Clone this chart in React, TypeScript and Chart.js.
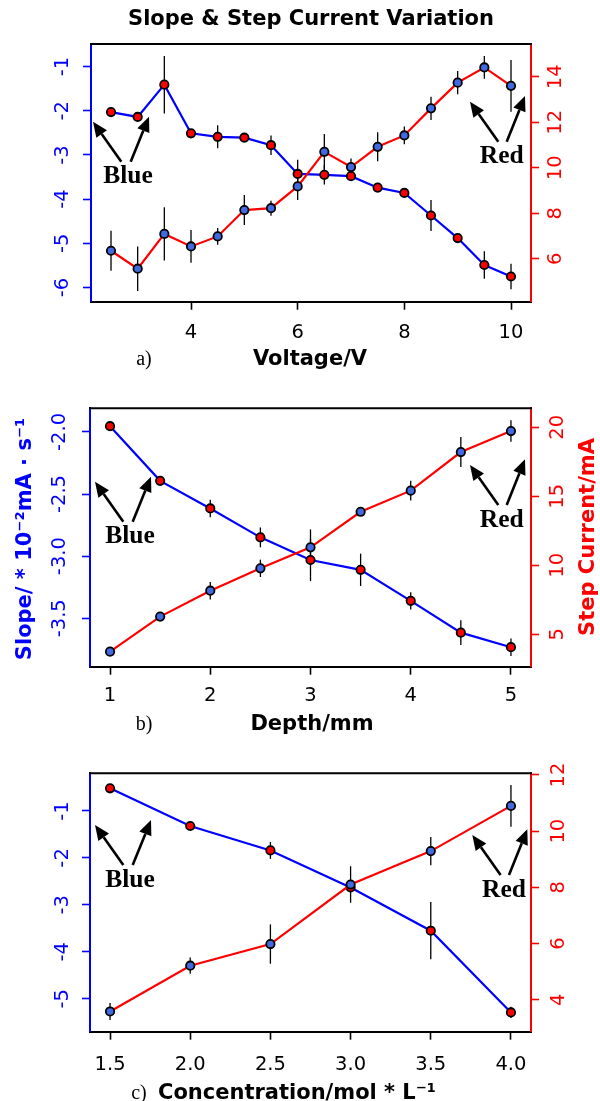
import React, { useEffect, useRef } from 'react';
import { Chart, registerables } from 'chart.js';

Chart.register(...registerables);

// ---------------- data ----------------
// a) voltage series
const voltage = [2.5, 3, 3.5, 4, 4.5, 5, 5.5, 6, 6.5, 7, 7.5, 8, 8.5, 9, 9.5, 10];
const slopeVoltage = [-2.03, -2.14, -1.41, -2.51, -2.59, -2.61, -2.78, -3.43, -3.45, -3.48, -3.74, -3.86, -4.37, -4.88, -5.49, -5.75];
const slopeVoltageErr = [0, 0, 0.65, 0, 0.26, 0, 0.22, 0.32, 0.22, 0, 0, 0, 0.35, 0, 0.31, 0.29];
const currentVoltage = [6.35, 5.56, 7.09, 6.54, 6.98, 8.14, 8.22, 9.18, 10.7, 10.03, 10.92, 11.42, 12.61, 13.74, 14.41, 13.6];
const currentVoltageErr = [0.88, 0.98, 1.17, 0.72, 0.37, 0.66, 0.33, 0.6, 0.78, 0.38, 0.64, 0.39, 0.51, 0.51, 0.5, 1.14];
const voltageTicks = [4, 6, 8, 10];
const slopeVoltageTicks = [-6, -5, -4, -3, -2, -1];
const currentVoltageTicks = [6, 8, 10, 12, 14];

// b) depth series
const depth = [1, 1.5, 2, 2.5, 3, 3.5, 4, 4.5, 5];
const slopeDepth = [-1.954, -2.394, -2.616, -2.849, -3.031, -3.11, -3.36, -3.616, -3.733];
const slopeDepthErr = [0, 0, 0.07, 0.08, 0.17, 0.13, 0.07, 0.1, 0.07];
const currentDepth = [3.74, 6.28, 8.16, 9.78, 11.3, 13.88, 15.41, 18.21, 19.73];
const currentDepthErr = [0, 0, 0.63, 0.63, 1.3, 0, 0.72, 1.09, 0.78];
const depthTicks = [1, 2, 3, 4, 5];
const slopeDepthTicks = [-3.5, -3.0, -2.5, -2.0];
const currentDepthTicks = [5, 10, 15, 20];

// c) concentration series
const concentration = [1.5, 2.0, 2.5, 3.0, 3.5, 4.0];
const slopeConc = [-0.517, -1.32, -1.84, -2.63, -3.55, -5.29];
const slopeConcErr = [0, 0.05, 0.18, 0.1, 0.61, 0.12];
const currentConc = [3.58, 5.21, 5.98, 8.1, 9.29, 10.9];
const currentConcErr = [0.3, 0.29, 0.7, 0.65, 0.5, 0.74];
const concTicks = [1.5, 2.0, 2.5, 3.0, 3.5, 4.0];
const slopeConcTicks = [-5, -4, -3, -2, -1];
const currentConcTicks = [4, 6, 8, 10, 12];

const chartTitle = 'Slope & Step Current Variation';
const xTitles = ['Voltage/V', 'Depth/mm', 'Concentration/mol * L⁻¹'];
const panelLetters = ['a)', 'b)', 'c)'];
const leftTitle = 'Slope/ * 10⁻²mA · s⁻¹';
const rightTitle = 'Step Current/mA';
const blueNote = 'Blue';
const redNote = 'Red';

// ---------------- styles ----------------
const BLUE = '#0000ff';
const RED = '#ff0000';
const ROYAL = '#4169e1';
const SANS = '"DejaVu Sans", sans-serif';
const SERIF = '"Liberation Serif", "Times New Roman", serif';
const TICK_FONT = 19.5;
const LABEL_FONT = 21;

type PanelCfg = {
  top: number;
  height: number;
  pad: { left: number; right: number; top: number; bottom: number };
  x: number[];
  slope: number[];
  slopeErr: number[];
  current: number[];
  currentErr: number[];
  xRange: [number, number];
  leftRange: [number, number];
  rightRange: [number, number];
  xTicks: number[];
  leftTicks: number[];
  rightTicks: number[];
  xDec: number;
  leftDec: number;
  rightDec: number;
  xPad: number;
  leftPad: number;
  rightPad: number;
  title?: string;
  titlePos?: [number, number];
  xTitle: string;
  xTitlePos: [number, number];
  letter: string;
  letterPos: [number, number];
  yTitles?: boolean;
  bluePos: [number, number];
  redPos: [number, number];
};

const panels: PanelCfg[] = [
  {
    top: 0, height: 372,
    pad: { left: 31, right: 9, top: 44, bottom: 20.3 },
    x: voltage, slope: slopeVoltage, slopeErr: slopeVoltageErr, current: currentVoltage, currentErr: currentVoltageErr,
    xRange: [2.125, 10.375], leftRange: [-6.32, -0.49], rightRange: [4.11, 15.44],
    xTicks: voltageTicks, leftTicks: slopeVoltageTicks, rightTicks: currentVoltageTicks,
    xDec: 0, leftDec: 0, rightDec: 0, xPad: 12, leftPad: 10.3, rightPad: 4.6,
    title: chartTitle, titlePos: [311, 20],
    xTitle: xTitles[0], xTitlePos: [310, 360], letter: panelLetters[0], letterPos: [144, 360],
    bluePos: [37, 132.7], redPos: [410.7, 112.7],
  },
  {
    top: 372, height: 372,
    pad: { left: 30, right: 9, top: 36.3, bottom: 27.3 },
    x: depth, slope: slopeDepth, slopeErr: slopeDepthErr, current: currentDepth, currentErr: currentDepthErr,
    xRange: [0.8, 5.2], leftRange: [-3.89, -1.81], rightRange: [2.65, 21.38],
    xTicks: depthTicks, leftTicks: slopeDepthTicks, rightTicks: currentDepthTicks,
    xDec: 0, leftDec: 1, rightDec: 0, xPad: 10, leftPad: 3, rightPad: 7,
    xTitle: xTitles[1], xTitlePos: [312, 353], letter: panelLetters[1], letterPos: [144, 353],
    yTitles: true,
    bluePos: [40, 128.4], redPos: [411.7, 111.7],
  },
  {
    top: 744, height: 357,
    pad: { left: 30, right: 9, top: 29.3, bottom: 19.3 },
    x: concentration, slope: slopeConc, slopeErr: slopeConcErr, current: currentConc, currentErr: currentConcErr,
    xRange: [1.375, 4.125], leftRange: [-5.7, -0.198], rightRange: [2.86, 12.06],
    xTicks: concTicks, leftTicks: slopeConcTicks, rightTicks: currentConcTicks,
    xDec: 1, leftDec: 0, rightDec: 0, xPad: 14, leftPad: 9.8, rightPad: 7.6,
    xTitle: xTitles[2], xTitlePos: [297, 350], letter: panelLetters[2], letterPos: [139, 350],
    bluePos: [40, 106.7], redPos: [414, 116.7],
  },
];

// arrow offsets relative to the annotation text centre: [tailX, tailY, tipX, tipY]
const blueArrows = [[-6.7, -15, -35, -55], [2.7, -15, 21, -60]];
const redArrows = [[-3.4, -15, -31.7, -55], [5, -15, 23.3, -60.7]];

function drawArrow(ctx: CanvasRenderingContext2D, x1: number, y1: number, x2: number, y2: number) {
  const ang = Math.atan2(y2 - y1, x2 - x1);
  const hl = 15;
  const hw = 6.5;
  const bx = x2 - hl * Math.cos(ang);
  const by = y2 - hl * Math.sin(ang);
  ctx.beginPath();
  ctx.moveTo(x1, y1);
  ctx.lineTo(bx, by);
  ctx.lineWidth = 2.6;
  ctx.strokeStyle = '#000';
  ctx.stroke();
  ctx.beginPath();
  ctx.moveTo(x2, y2);
  ctx.lineTo(bx + hw * Math.sin(ang), by - hw * Math.cos(ang));
  ctx.lineTo(bx - hw * Math.sin(ang), by + hw * Math.cos(ang));
  ctx.closePath();
  ctx.fillStyle = '#000';
  ctx.fill();
}

function makePlugin(p: PanelCfg) {
  return {
    id: 'decor',
    beforeDatasetsDraw(chart: any) {
      const ctx: CanvasRenderingContext2D = chart.ctx;
      const xs = chart.scales.x;
      ctx.save();
      ctx.strokeStyle = '#000';
      ctx.lineWidth = 1.3;
      const series: [number[], number[], any][] = [
        [p.slope, p.slopeErr, chart.scales.yL],
        [p.current, p.currentErr, chart.scales.yR],
      ];
      series.forEach(([vals, errs, ys]) => {
        vals.forEach((v, i) => {
          const e = errs[i];
          if (!e) return;
          const px = xs.getPixelForValue(p.x[i]);
          ctx.beginPath();
          ctx.moveTo(px, ys.getPixelForValue(v - e));
          ctx.lineTo(px, ys.getPixelForValue(v + e));
          ctx.stroke();
        });
      });
      ctx.restore();
    },
    afterDraw(chart: any) {
      const ctx: CanvasRenderingContext2D = chart.ctx;
      const a = chart.chartArea;
      ctx.save();
      // top frame
      ctx.strokeStyle = '#000';
      ctx.lineWidth = 2;
      ctx.beginPath();
      ctx.moveTo(a.left - 1, a.top);
      ctx.lineTo(a.right + 1, a.top);
      ctx.stroke();

      ctx.textAlign = 'center';
      ctx.textBaseline = 'middle';
      ctx.fillStyle = '#000';
      if (p.title && p.titlePos) {
        ctx.font = `bold ${LABEL_FONT}px ${SANS}`;
        ctx.fillText(p.title, p.titlePos[0], p.titlePos[1]);
      }
      ctx.font = `bold ${LABEL_FONT}px ${SANS}`;
      ctx.fillText(p.xTitle, p.xTitlePos[0], p.xTitlePos[1]);
      ctx.font = `20px ${SERIF}`;
      ctx.fillText(p.letter, p.letterPos[0], p.letterPos[1]);

      if (p.yTitles) {
        const cy = (a.top + a.bottom) / 2;
        ctx.font = `bold ${LABEL_FONT}px ${SANS}`;
        ctx.save();
        ctx.translate(26, cy + 1.5);
        ctx.rotate(-Math.PI / 2);
        ctx.fillStyle = BLUE;
        ctx.fillText(leftTitle, 0, 0);
        ctx.restore();
        ctx.save();
        ctx.translate(589, cy - 0.5);
        ctx.rotate(-Math.PI / 2);
        ctx.fillStyle = RED;
        ctx.fillText(rightTitle, 0, 0);
        ctx.restore();
      }

      // annotations
      ctx.font = `bold 25.5px ${SERIF}`;
      const notes: [string, [number, number], number[][]][] = [
        [blueNote, p.bluePos, blueArrows],
        [redNote, p.redPos, redArrows],
      ];
      notes.forEach(([txt, pos, arrows]) => {
        const cx = a.left + pos[0];
        const cy = a.top + pos[1];
        ctx.fillStyle = '#000';
        ctx.fillText(txt, cx, cy);
        arrows.forEach(([tx, ty, hx, hy]) => drawArrow(ctx, cx + tx, cy + ty, cx + hx, cy + hy));
      });
      ctx.restore();
    },
  };
}

function zeroPad(s: any) {
  s.paddingTop = 0;
  s.paddingBottom = 0;
  s.paddingLeft = 0;
  s.paddingRight = 0;
}

function makeConfig(p: PanelCfg): any {
  const pointStyle = {
    pointRadius: 4.2,
    pointBorderWidth: 1.8,
    pointBorderColor: '#000',
    pointHoverRadius: 4.2,
  };
  return {
    type: 'line',
    data: {
      datasets: [
        {
          label: 'Step Current',
          data: p.x.map((x, i) => ({ x, y: p.current[i] })),
          yAxisID: 'yR',
          borderColor: RED,
          borderWidth: 2.2,
          pointBackgroundColor: ROYAL,
          order: 0,
          ...pointStyle,
        },
        {
          label: 'Slope',
          data: p.x.map((x, i) => ({ x, y: p.slope[i] })),
          yAxisID: 'yL',
          borderColor: BLUE,
          borderWidth: 2.2,
          pointBackgroundColor: RED,
          order: 1,
          ...pointStyle,
        },
      ],
    },
    options: {
      animation: false,
      responsive: false,
      maintainAspectRatio: false,
      layout: { padding: p.pad },
      plugins: { legend: { display: false }, tooltip: { enabled: false }, title: { display: false } },
      scales: {
        x: {
          type: 'linear',
          position: 'bottom',
          min: p.xRange[0],
          max: p.xRange[1],
          afterBuildTicks: (s: any) => { s.ticks = p.xTicks.map((v) => ({ value: v })); },
          afterFit: (s: any) => { s.height = 50; zeroPad(s); },
          ticks: {
            color: '#000',
            font: { family: SANS, size: TICK_FONT },
            padding: p.xPad,
            minRotation: 0,
            maxRotation: 0,
            autoSkip: false,
            callback: (v: any) => Number(v).toFixed(p.xDec),
          },
          grid: { drawOnChartArea: false, drawTicks: true, tickLength: 8, tickWidth: 1.6, tickColor: '#000', color: '#000' },
          border: { display: true, color: '#000', width: 2 },
        },
        yL: {
          type: 'linear',
          position: 'left',
          min: p.leftRange[0],
          max: p.leftRange[1],
          afterBuildTicks: (s: any) => { s.ticks = p.leftTicks.map((v) => ({ value: v })); },
          afterFit: (s: any) => { s.width = 60; zeroPad(s); },
          ticks: {
            color: BLUE,
            font: { family: SANS, size: TICK_FONT },
            padding: p.leftPad,
            minRotation: 90,
            maxRotation: 90,
            crossAlign: 'center',
            autoSkip: false,
            callback: (v: any) => Number(v).toFixed(p.leftDec),
          },
          grid: { drawOnChartArea: false, drawTicks: true, tickLength: 8, tickWidth: 1.6, tickColor: BLUE, color: BLUE },
          border: { display: true, color: BLUE, width: 2 },
        },
        yR: {
          type: 'linear',
          position: 'right',
          min: p.rightRange[0],
          max: p.rightRange[1],
          afterBuildTicks: (s: any) => { s.ticks = p.rightTicks.map((v) => ({ value: v })); },
          afterFit: (s: any) => { s.width = 60; zeroPad(s); },
          ticks: {
            color: RED,
            font: { family: SANS, size: TICK_FONT },
            padding: p.rightPad,
            minRotation: 90,
            maxRotation: 90,
            crossAlign: 'center',
            autoSkip: false,
            callback: (v: any) => Number(v).toFixed(p.rightDec),
          },
          grid: { drawOnChartArea: false, drawTicks: true, tickLength: 8, tickWidth: 1.6, tickColor: RED, color: RED },
          border: { display: true, color: RED, width: 2 },
        },
      },
    },
    plugins: [makePlugin(p)],
  };
}

function PanelChart({ p }: { p: PanelCfg }) {
  const ref = useRef<HTMLCanvasElement | null>(null);
  useEffect(() => {
    if (!ref.current) return;
    const chart = new Chart(ref.current, makeConfig(p));
    return () => chart.destroy();
  }, [p]);
  return (
    <canvas
      ref={ref}
      width={600}
      height={p.height}
      style={{ position: 'absolute', left: 0, top: p.top, width: 600, height: p.height }}
    />
  );
}

export default function App() {
  return (
    <div style={{ position: 'absolute', left: 0, top: 0, width: 600, height: 1101, background: '#fff' }}>
      {panels.map((p, i) => (
        <PanelChart key={i} p={p} />
      ))}
    </div>
  );
}
